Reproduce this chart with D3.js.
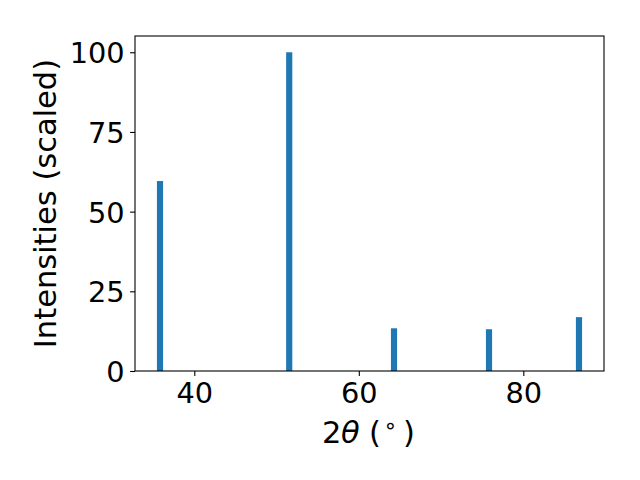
<!DOCTYPE html>
<html><head><meta charset="utf-8">
<script src="https://cdn.jsdelivr.net/npm/d3@7"></script>
<style>body{margin:0;background:#fff}svg{display:block}text{font-family:"DejaVu Sans",sans-serif}</style>
</head><body>
<svg id="c" width="640" height="480"></svg>
<script>
const positions = [35.83, 51.54, 64.28, 75.83, 86.77];
const intensities = [59.6, 100, 13.4, 13.1, 16.9];
const xTicks = [40, 60, 80];
const yTicks = [0, 25, 50, 75, 100];
const barWidth = 0.75;

const FS = 28.8, LFS = 30.5;
const svg = d3.select("#c");
const m = {l:135, r:604, t:36, b:371};
const x = d3.scaleLinear().domain([32.79, 89.81]).range([m.l, m.r]);
const y = d3.scaleLinear().domain([0, 105.1]).range([m.b, m.t]);

svg.append("g").selectAll("rect").data(positions).join("rect")
  .attr("x", (d)=>x(d - barWidth/2))
  .attr("width", (d)=>x(d + barWidth/2) - x(d - barWidth/2))
  .attr("y", (d,i)=>y(intensities[i]))
  .attr("height", (d,i)=>y(0) - y(intensities[i]))
  .attr("fill", "#1f77b4");

const xa = svg.append("g").attr("transform", `translate(0,${m.b})`)
  .call(d3.axisBottom(x).tickValues(xTicks).tickSize(4.9).tickPadding(6.5).tickFormat(d3.format("d")));
const ya = svg.append("g").attr("transform", `translate(${m.l},0)`)
  .call(d3.axisLeft(y).tickValues(yTicks).tickSize(4.9).tickPadding(5.5).tickFormat(d3.format("d")));
[xa, ya].forEach(a => {
  a.attr("font-size", FS).attr("font-family", "DejaVu Sans");
  a.select(".domain").remove();
  a.selectAll("line").attr("stroke", "#000").attr("stroke-width", 1.1);
  a.selectAll("text").attr("font-size", FS).attr("fill", "#000").attr("font-family", "DejaVu Sans");
});
ya.selectAll("text").attr("dy", "0.36em");

svg.append("rect").attr("x", m.l).attr("y", m.t).attr("width", m.r - m.l).attr("height", m.b - m.t)
  .attr("fill", "none").attr("stroke", "#000").attr("stroke-width", 1.1);

const xl = svg.append("text").attr("y", 442.5).attr("font-size", LFS).attr("fill", "#000");
xl.append("tspan").attr("x", 322).attr("dx", 0).text("2");
xl.append("tspan").attr("x", 341).attr("font-style", "italic").text("θ");
xl.append("tspan").attr("x", 369).text("(");
xl.append("tspan").attr("x", 383.5).attr("y", 432.5).attr("font-size", 22).text("∘");
xl.append("tspan").attr("x", 403).attr("y", 442.5).text(")");

svg.append("text").attr("transform", `translate(55.5,${(m.t + m.b)/2}) rotate(-90)`)
  .attr("text-anchor", "middle").attr("font-size", LFS).attr("fill", "#000")
  .text("Intensities (scaled)");
</script>
</body></html>
